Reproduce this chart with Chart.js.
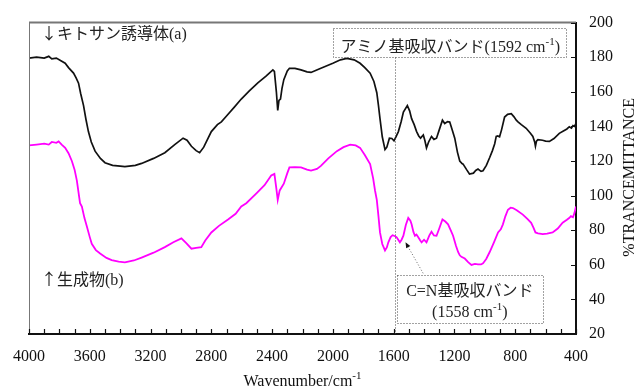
<!DOCTYPE html>
<html>
<head>
<meta charset="utf-8">
<script src="https://cdn.jsdelivr.net/npm/chart.js@4.4.1/dist/chart.umd.min.js"></script>
<style>
  html, body { margin: 0; padding: 0; background: #fff; }
  canvas { display: block; }
</style>
</head>
<body>
<canvas id="irChart" width="636" height="387"></canvas>
<script>
// wavenumber (cm-1) / %T
var waveA = [4000, 3950, 3900, 3870, 3850, 3820, 3790, 3762, 3740, 3707, 3690, 3674, 3660, 3641, 3625, 3609, 3590, 3565, 3530, 3500,
    3450, 3400, 3369, 3300, 3259, 3180, 3106, 3041, 2986, 2960, 2931, 2900, 2877, 2850, 2800, 2760, 2734, 2700, 2650, 2603,
    2550, 2494, 2440, 2395, 2385, 2372, 2363, 2355, 2345, 2335, 2323, 2300, 2286, 2250, 2210, 2170, 2144, 2110, 2079, 2000,
    1950, 1908, 1860, 1821, 1790, 1755, 1730, 1711, 1700, 1690, 1675, 1657, 1645, 1628, 1612, 1598, 1585, 1569, 1550, 1536,
    1510, 1495, 1482, 1465, 1449, 1435, 1423, 1405, 1395, 1384, 1370, 1351, 1335, 1318, 1300, 1279, 1264, 1245, 1231, 1215,
    1198, 1180, 1165, 1150, 1143, 1120, 1101, 1075, 1060, 1045, 1025, 1012, 990, 968, 950, 935, 925, 915, 903, 890,
    870, 850, 826, 808, 793, 780, 760, 728, 700, 684, 672, 667, 660, 651, 620, 600, 575, 545, 510, 480,
    460, 444, 430, 420, 410, 400];
var transA = [179.5, 180, 179.5, 180.5, 179, 179.5, 178, 176.5, 174, 170.8, 168, 165, 159, 152, 144, 137, 131, 125.7, 121.5, 119,
    117.5, 117, 116.7, 117.5, 118.6, 121.5, 124.8, 129.5, 133.2, 132, 128.5, 126, 124.8, 128, 137, 141, 142.6, 146, 151, 155.8,
    160.5, 165.2, 169, 172.7, 171.8, 160, 149.2, 155, 155.8, 162, 167, 172, 173.6, 173.5, 172.7, 171.5, 171.2, 172.5, 173.6, 176.5,
    178.5, 179.3, 178.5, 176.5, 174, 170.8, 166, 159.5, 152, 144.5, 134, 126.6, 128, 133.2, 133, 131.7, 134, 137, 143, 148.3,
    152, 149, 144.5, 141, 137, 134.5, 133.2, 135, 132, 127.6, 131, 134.2, 132.5, 133.2, 138, 143.6, 141.7, 142.8, 142.6, 138,
    133.2, 125, 120, 118.5, 118.2, 115, 112.5, 113, 114.5, 115.3, 114, 114.4, 117.5, 122, 126, 130, 134.2, 134.5, 134, 138,
    145.4, 147, 147.3, 145.5, 143.6, 142.5, 141, 138.9, 136, 134.2, 131, 128.5, 131.5, 132.3, 132, 131.5, 131.3, 133, 136, 137.5,
    138.5, 139.8, 139, 140.5, 140, 141.7];

var waveB = [4000, 3950, 3900, 3870, 3850, 3820, 3805, 3785, 3762, 3740, 3718, 3700, 3685, 3664, 3652, 3635, 3620, 3600, 3587, 3560,
    3532, 3490, 3456, 3410, 3369, 3310, 3259, 3180, 3106, 3050, 2997, 2965, 2931, 2900, 2866, 2840, 2800, 2750, 2690, 2640,
    2603, 2570, 2505, 2450, 2406, 2385, 2372, 2363, 2350, 2323, 2300, 2286, 2250, 2210, 2170, 2144, 2105, 2079, 2030, 1974,
    1930, 1886, 1850, 1821, 1790, 1755, 1735, 1723, 1711, 1700, 1690, 1675, 1657, 1645, 1635, 1620, 1607, 1590, 1580, 1570,
    1559, 1548, 1536, 1520, 1504, 1490, 1482, 1470, 1460, 1450, 1438, 1425, 1416, 1400, 1384, 1365, 1351, 1335, 1318, 1300,
    1279, 1260, 1242, 1225, 1209, 1190, 1176, 1165, 1154, 1132, 1110, 1088, 1065, 1045, 1025, 1012, 990, 968, 940, 913,
    895, 881, 865, 848, 830, 815, 790, 750, 720, 695, 680, 667, 650, 619, 590, 554, 520, 488, 460, 445,
    433, 420, 410, 400];
var transB = [129, 129.5, 130, 129.5, 131, 130.5, 131.3, 129.5, 127.6, 124.5, 120, 115, 108.7, 95.6, 93.7, 87, 82.4, 76, 72.1, 68.5,
    66.5, 64, 62.7, 61.8, 61.4, 62.5, 64.2, 67, 70.2, 73, 75.3, 72.5, 69.3, 69.8, 70.2, 74, 78.7, 82.5, 86.2, 89.5,
    93.7, 95.6, 101.2, 106, 111.6, 112.5, 104, 97.5, 103, 106.9, 113, 116.3, 116.5, 116.3, 115, 114.4, 115.4, 117.2, 121.5, 125.7,
    128, 129.5, 129, 127.6, 123.5, 118.2, 110, 103.1, 97.5, 88, 78.7, 72, 68.3, 70, 73, 76, 77.1, 76.5, 75.9, 74.5,
    73, 74.5, 76.8, 83, 87.1, 85.5, 83.4, 79, 76.8, 77.5, 75.9, 74, 73, 74.5, 73, 77, 79.1, 77, 76.8, 81,
    86.2, 85, 83.4, 80, 76.8, 71, 67.4, 65.5, 64.6, 63.6, 61.5, 59.9, 60.5, 60.3, 60.2, 60.8, 63.5, 67.4, 73, 78.7,
    80.5, 83.4, 88, 91.8, 93, 92.8, 91.5, 89, 86.5, 84.3, 81.5, 78.7, 78.2, 77.7, 78, 78.7, 81, 84.3, 86, 87,
    88.1, 87.5, 90, 93.7];

var xTickLabels = [4000, 3600, 3200, 2800, 2400, 2000, 1600, 1200, 800, 400];
var yTickLabels = [20, 40, 60, 80, 100, 120, 140, 160, 180, 200];

var serif = "'Liberation Serif', 'Noto Sans CJK JP', serif";
var cjk = "'Noto Sans CJK JP', sans-serif";

function toPoints(xs, ys) {
    return xs.map(function (x, i) { return { x: x, y: ys[i] }; });
}

// parts = [[text, isSup, family?], ...]; superscripts get a smaller raised font
function partFont(p, size) {
    return (p[1] ? Math.round(size * 0.68) : size) + 'px ' + (p[2] || serif);
}

function richText(ctx, parts, x, y, size, align) {
    var total = 0;
    parts.forEach(function (p) {
        ctx.font = partFont(p, size);
        total += ctx.measureText(p[0]).width;
    });
    var cx = align === 'center' ? x - total / 2 : x;
    ctx.textAlign = 'left';
    ctx.textBaseline = 'alphabetic';
    parts.forEach(function (p) {
        ctx.font = partFont(p, size);
        ctx.fillText(p[0], cx, p[1] ? y - size * 0.42 : y);
        cx += ctx.measureText(p[0]).width;
    });
}

var decorations = {
    id: 'decorations',
    afterDraw: function (chart) {
        var ctx = chart.ctx;
        var xs = chart.scales.x, ys = chart.scales.y;
        var a = chart.chartArea;
        ctx.save();

        // top / left frame
        ctx.strokeStyle = '#777';
        ctx.lineWidth = 2;
        ctx.beginPath();
        ctx.moveTo(a.left, a.top);
        ctx.lineTo(a.right, a.top);
        ctx.stroke();
        ctx.lineWidth = 1;
        ctx.beginPath();
        ctx.moveTo(a.left + 0.5, a.top);
        ctx.lineTo(a.left + 0.5, a.bottom);
        ctx.stroke();

        // inward ticks
        ctx.strokeStyle = '#111';
        ctx.lineWidth = 1.2;
        ctx.beginPath();
        for (var v = 400; v <= 4000; v += 100) {
            var px = Math.round(xs.getPixelForValue(v)) + 0.5;
            ctx.moveTo(px, a.bottom);
            ctx.lineTo(px, a.bottom - 5);
        }
        yTickLabels.forEach(function (t) {
            var py = Math.round(ys.getPixelForValue(t)) + 0.5;
            ctx.moveTo(a.right, py);
            ctx.lineTo(a.right - 5, py);
        });
        ctx.stroke();

        // axis titles
        ctx.fillStyle = '#111';
        richText(ctx, [['Wavenumber/cm', false], ['-1', true]], (a.left + a.right) / 2, 386, 16, 'center');
        ctx.save();
        ctx.translate(634, (a.top + a.bottom) / 2 - 1);
        ctx.rotate(-Math.PI / 2);
        richText(ctx, [['%TRANCEMITTANCE', false]], 0, 0, 16, 'center');
        ctx.restore();

        // series labels
        ctx.fillStyle = '#222';
        richText(ctx, [['\u2193', false, cjk], ['キトサン誘導体(a)', false]], a.left + 12, 39, 16, 'left');
        richText(ctx, [['\u2191', false, cjk], ['生成物(b)', false]], a.left + 12, 285, 16, 'left');

        // amino band box + dotted marker line
        ctx.strokeStyle = '#444';
        ctx.lineWidth = 1;
        ctx.setLineDash([1, 2]);
        var b1l = xs.getPixelForValue(2002), b1r = xs.getPixelForValue(466);
        var b1t = ys.getPixelForValue(196.8), b1b = ys.getPixelForValue(179.9);
        ctx.strokeRect(Math.round(b1l) + 0.5, Math.round(b1t) + 0.5, Math.round(b1r - b1l), Math.round(b1b - b1t));
        var lx = Math.round(xs.getPixelForValue(1592)) + 0.5;
        ctx.beginPath();
        ctx.moveTo(lx, Math.round(b1b) + 0.5);
        ctx.lineTo(lx, a.bottom);
        ctx.stroke();
        richText(ctx, [['アミノ基吸収バンド(1592 cm', false], ['-1', true], [')', false]], (b1l + b1r) / 2 + 1, b1t + 24, 16, 'center');

        // C=N band box
        var b2l = xs.getPixelForValue(1580), b2r = xs.getPixelForValue(618);
        var b2t = ys.getPixelForValue(54.2), b2b = ys.getPixelForValue(26.4);
        ctx.strokeRect(Math.round(b2l) + 0.5, Math.round(b2t) + 0.5, Math.round(b2r - b2l), Math.round(b2b - b2t));
        richText(ctx, [['C=N基吸収バンド', false]], (b2l + b2r) / 2, b2t + 21, 16, 'center');
        richText(ctx, [['(1558 cm', false], ['-1', true], [')', false]], (b2l + b2r) / 2, b2t + 42, 16, 'center');

        // pointer arrow
        var ax0 = xs.getPixelForValue(1406), ay0 = ys.getPixelForValue(55.1);
        var ax1 = xs.getPixelForValue(1522), ay1 = ys.getPixelForValue(73);
        ctx.strokeStyle = '#666';
        ctx.beginPath();
        ctx.moveTo(ax0, ay0);
        ctx.lineTo(ax1, ay1);
        ctx.stroke();
        ctx.setLineDash([]);
        var ang = Math.atan2(ay1 - ay0, ax1 - ax0);
        ctx.fillStyle = '#111';
        ctx.beginPath();
        ctx.moveTo(ax1, ay1);
        ctx.lineTo(ax1 - 6 * Math.cos(ang - 0.4), ay1 - 6 * Math.sin(ang - 0.4));
        ctx.lineTo(ax1 - 6 * Math.cos(ang + 0.4), ay1 - 6 * Math.sin(ang + 0.4));
        ctx.closePath();
        ctx.fill();

        ctx.restore();
    }
};

var ctx = document.getElementById('irChart').getContext('2d');
var irChart = new Chart(ctx, {
    type: 'line',
    data: {
        datasets: [{
            label: 'キトサン誘導体(a)',
            data: toPoints(waveA, transA),
            borderColor: '#111',
            borderWidth: 1.7,
            pointRadius: 0,
            fill: false
        }, {
            label: '生成物(b)',
            data: toPoints(waveB, transB),
            borderColor: '#ff00ff',
            borderWidth: 1.8,
            pointRadius: 0,
            fill: false
        }]
    },
    options: {
        responsive: false,
        animation: false,
        devicePixelRatio: 1,
        layout: { padding: { left: 27, top: 15, right: 0, bottom: 0 } },
        plugins: {
            legend: { display: false },
            tooltip: { enabled: false }
        },
        scales: {
            x: {
                type: 'linear',
                position: 'bottom',
                reverse: true,
                min: 400,
                max: 4000,
                afterBuildTicks: function (scale) {
                    scale.ticks = xTickLabels.map(function (v) { return { value: v }; });
                },
                afterFit: function (scale) { scale.height = 53; },
                grid: { display: false, drawTicks: false },
                border: { display: true, color: '#111', width: 2 },
                ticks: {
                    autoSkip: false,
                    maxRotation: 0,
                    padding: 13,
                    color: '#111',
                    font: { family: serif, size: 16 },
                    callback: function (value) { return String(value); }
                }
            },
            y: {
                type: 'linear',
                position: 'right',
                min: 20,
                max: 200,
                afterBuildTicks: function (scale) {
                    scale.ticks = yTickLabels.map(function (v) { return { value: v }; });
                },
                afterFit: function (scale) { scale.width = 60; },
                grid: { display: false, drawTicks: false },
                border: { display: true, color: '#111', width: 2 },
                ticks: {
                    padding: 13,
                    color: '#111',
                    font: { family: serif, size: 16 },
                    callback: function (value) { return String(value); }
                }
            }
        }
    },
    plugins: [decorations]
});
</script>
</body>
</html>
